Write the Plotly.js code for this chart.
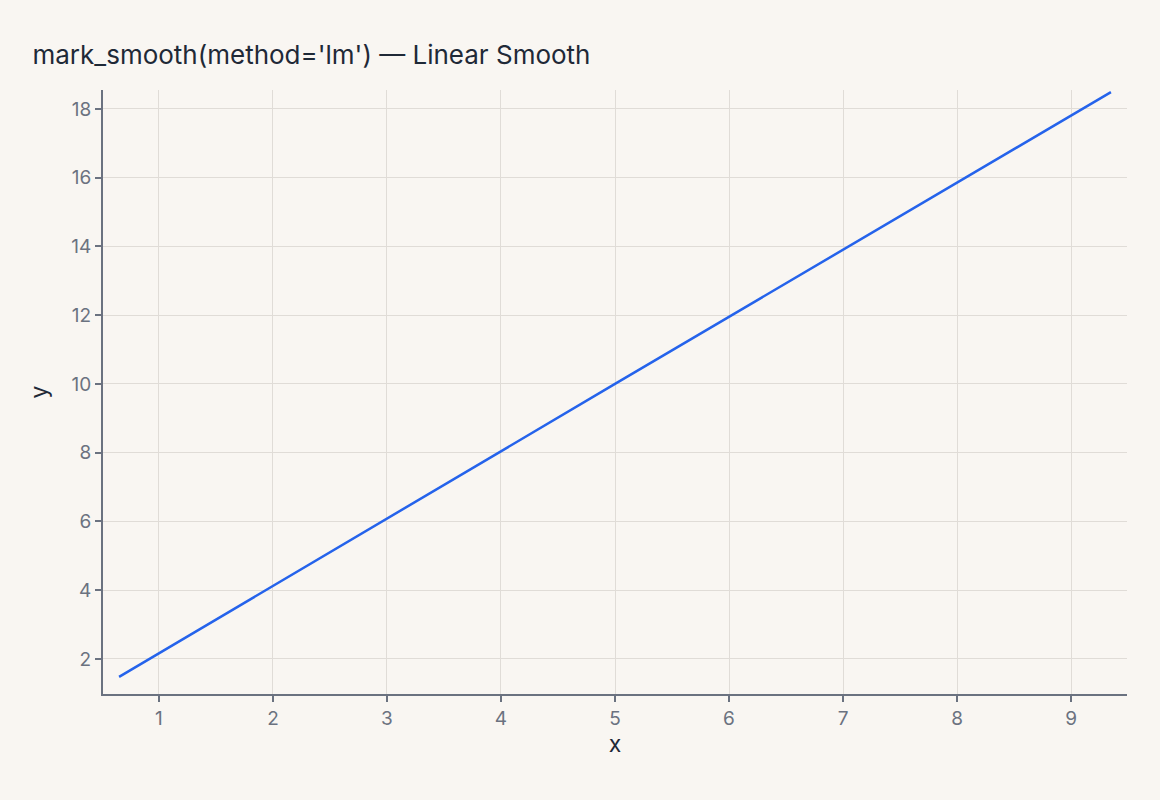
<!DOCTYPE html>
<html>
<head>
<meta charset="utf-8">
<script src="https://cdn.plot.ly/plotly-3.0.1.min.js"></script>
<style>html,body{margin:0;padding:0;background:#f9f6f2;}</style>
</head>
<body>
<div id="chart" style="width:1160px;height:800px;"></div>
<script>
const xValues = [0.65, 5.0, 9.35];
const yValues = [1.48, 10.0, 18.49];
const xTicks = [1, 2, 3, 4, 5, 6, 7, 8, 9];
const yTicks = [2, 4, 6, 8, 10, 12, 14, 16, 18];

const trace = {
  x: xValues, y: yValues, type: 'scatter', mode: 'lines',
  line: {color: '#2563eb', width: 2.5}, hoverinfo: 'none'
};
const axisCommon = {
  showline: true, linecolor: '#6b7280', linewidth: 2,
  ticks: 'outside', ticklen: 6, tickwidth: 2, tickcolor: '#6b7280',
  gridcolor: '#e0dcd7', gridwidth: 1, zeroline: false,
  tickfont: {family: 'Inter, sans-serif', size: 19, color: '#6b7280'}
};
const layout = {
  width: 1160, height: 800,
  paper_bgcolor: '#f9f6f2', plot_bgcolor: '#f9f6f2',
  margin: {l: 103, r: 33, t: 90, b: 106},
  font: {family: 'Inter, sans-serif'},
  title: {text: "mark_smooth(method='lm') — Linear Smooth", x: 0.028, xanchor: 'left', y: 0.931, yanchor: 'middle',
          font: {family: 'Inter, sans-serif', size: 26, color: '#1f2937'}},
  xaxis: Object.assign({}, axisCommon, {range: [0.509, 9.491], tickvals: xTicks,
    title: {text: 'x', standoff: 4, font: {family: 'Inter, sans-serif', size: 23, color: '#1f2937'}}}),
  yaxis: Object.assign({}, axisCommon, {range: [0.98, 18.55], tickvals: yTicks,
    title: {text: 'y', standoff: 17, font: {family: 'Inter, sans-serif', size: 23, color: '#1f2937'}}}),
  showlegend: false
};
Plotly.newPlot('chart', [trace], layout, {displayModeBar: false, staticPlot: true});
</script>
</body>
</html>
